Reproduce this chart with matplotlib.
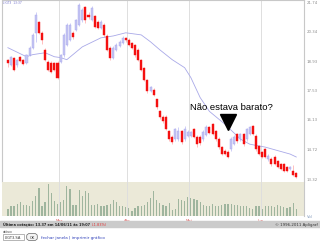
import matplotlib
matplotlib.use("Agg")
import matplotlib.pyplot as plt
from matplotlib.patches import Rectangle, FancyBboxPatch

# daily candles (open, close, high, low), Feb 14 - Jun 14 2011
opens = [18.95, 18.72, 19.05, 18.72, 19.09, 18.95, 18.81, 19.19, 19.52, 20.23,
         20.75, 20.23, 19.42, 18.86, 18.81, 18.81, 18.81, 18.86, 19.19, 19.66,
         19.90, 20.23, 20.37, 20.61, 20.84, 21.46, 21.08, 20.84, 21.03, 20.75,
         20.47, 20.61, 20.09, 19.52, 19.05, 19.42, 19.61, 19.75, 19.99, 19.90,
         19.75, 19.66, 19.42, 18.95, 18.57, 18.00, 17.44, 17.53, 17.06, 16.49,
         16.21, 16.21, 15.55, 15.26, 15.17, 15.17, 15.55, 15.17, 15.31, 15.31,
         15.64, 15.26, 15.26, 15.17, 15.36, 15.74, 15.88, 15.55, 15.17, 14.79,
         14.60, 14.55, 14.69, 14.93, 15.40, 15.17, 15.40, 15.17, 15.40, 15.78,
         15.31, 14.84, 14.55, 14.69, 14.22, 14.22, 14.32, 14.13, 13.99, 13.99,
         13.84, 13.75, 13.65, 13.55]
closes = [18.81, 19.09, 18.48, 18.95, 18.90, 18.76, 19.19, 19.52, 20.13, 21.08,
          20.23, 19.90, 18.95, 18.48, 18.38, 18.48, 18.10, 19.19, 20.13, 20.61,
          20.61, 20.04, 20.84, 21.55, 21.31, 20.84, 20.99, 21.41, 20.51, 20.47,
          20.75, 20.13, 19.42, 19.05, 19.52, 19.66, 19.80, 19.99, 19.90, 19.66,
          19.52, 19.19, 18.95, 18.48, 18.00, 17.44, 17.63, 17.25, 16.68, 16.21,
          16.02, 15.64, 15.17, 15.03, 15.64, 15.55, 15.03, 15.64, 15.50, 15.50,
          15.26, 14.93, 14.98, 15.50, 15.74, 15.45, 15.40, 15.17, 14.79, 14.46,
          14.46, 14.32, 15.17, 15.26, 15.07, 15.40, 14.93, 15.64, 15.74, 15.40,
          14.69, 14.46, 14.32, 14.32, 14.36, 13.99, 13.99, 13.84, 13.75, 13.65,
          13.65, 13.84, 13.46, 13.37]
highs = [19.00, 19.14, 19.10, 19.00, 19.14, 19.00, 19.24, 19.60, 20.20, 21.20,
         20.80, 20.30, 19.50, 18.95, 18.90, 18.86, 18.90, 19.24, 20.20, 20.70,
         20.70, 20.30, 20.90, 21.65, 21.40, 21.50, 21.20, 21.50, 21.10, 20.85,
         20.85, 20.70, 20.15, 19.60, 19.60, 19.75, 19.88, 20.08, 20.05, 19.99,
         19.80, 19.70, 19.50, 19.00, 18.62, 18.05, 17.70, 17.60, 17.10, 16.55,
         16.30, 16.30, 15.60, 15.35, 15.70, 15.75, 15.60, 15.80, 15.60, 15.55,
         15.70, 15.35, 15.35, 15.60, 15.85, 15.80, 15.95, 15.60, 15.25, 14.85,
         14.70, 14.65, 15.25, 15.35, 15.45, 15.45, 15.45, 15.70, 15.80, 15.85,
         15.40, 14.90, 14.60, 14.75, 14.45, 14.30, 14.40, 14.20, 14.05, 14.05,
         13.90, 13.90, 13.95, 13.60]
lows = [18.62, 18.67, 18.43, 18.60, 18.85, 18.70, 18.76, 19.14, 19.45, 19.80,
        20.18, 19.70, 18.90, 18.40, 18.30, 18.43, 18.05, 18.81, 19.10, 19.60,
        19.85, 19.95, 20.30, 20.55, 20.75, 20.70, 20.90, 20.80, 20.45, 20.40,
        20.40, 20.05, 19.35, 18.95, 19.00, 19.35, 19.55, 19.70, 19.80, 19.60,
        19.45, 19.10, 18.90, 18.40, 17.95, 17.35, 17.40, 17.20, 16.60, 16.15,
        15.95, 15.60, 15.10, 14.95, 15.10, 15.10, 14.95, 15.10, 15.25, 15.25,
        15.20, 14.80, 14.90, 15.10, 15.30, 15.40, 15.35, 15.10, 14.70, 14.40,
        14.40, 14.25, 14.60, 14.90, 15.00, 15.10, 14.85, 15.10, 15.35, 15.35,
        14.60, 14.40, 14.25, 14.25, 14.15, 13.90, 13.95, 13.80, 13.70, 13.60,
        13.60, 13.70, 13.40, 13.30]
volumes = [20, 28, 28, 36, 40, 33, 33, 30, 43, 58, 80, 28, 41, 93, 66, 43, 36, 40, 46, 86,
           78, 33, 31, 75, 58, 71, 66, 33, 33, 35, 30, 28, 33, 36, 46, 40, 28, 28, 26, 23,
           15, 23, 30, 28, 33, 41, 53, 71, 46, 38, 31, 30, 38, 18, 20, 50, 46, 43, 56, 53,
           48, 46, 40, 33, 28, 30, 36, 30, 30, 33, 36, 35, 36, 33, 33, 30, 28, 30, 23, 20,
           28, 28, 20, 30, 30, 28, 26, 33, 28, 26, 24, 26, 38, 21]

# moving average line, read at a few points (day index, price)
ma_idx = [0, 6, 8, 12, 15, 17, 19, 24, 30, 34, 38, 43, 46, 49, 53, 57, 59, 62, 65, 70, 75, 78, 83, 91, 93]
ma_vals = [19.52, 19.09, 19.19, 19.28, 19.09, 19.05, 18.95, 19.56, 19.99, 20.08, 20.23, 20.13,
           19.80, 19.42, 18.95, 18.57, 18.10, 17.15, 16.49, 15.88, 15.17, 14.93, 14.79, 14.46, 14.32]

price_ticks = [13.32, 14.72, 16.13, 17.53, 18.93, 20.34, 21.74]
month_labels = ["Mar", "Abr", "Mai", "Jun"]
month_start = [17, 39, 59, 82]

W, H = 320, 251
fig = plt.figure(figsize=(W / 100, H / 100), dpi=100)
fig.patch.set_facecolor("white")

ax = fig.add_axes([2 / W, 1 - 183 / H, 302 / W, 182 / H])
vax = fig.add_axes([2 / W, 1 - 217 / H, 302 / W, 34 / H])

n = len(opens)
for i in range(n):
    o, c = opens[i], closes[i]
    up = c >= o
    ax.vlines(i, lows[i], highs[i], color="#c8c8f6" if up else "#ffb4b4", lw=0.6, zorder=2)
    ax.bar(i, abs(c - o) if abs(c - o) > 0.02 else 0.03, bottom=min(o, c), width=0.65,
           color="#c4c4f4" if up else "#f41010",
           edgecolor="#a8a8ea" if up else "#f41010", lw=0.3, zorder=3)

ax.plot(ma_idx, ma_vals, color="#a9a9e8", lw=0.6, zorder=2)

for m in month_start:
    ax.axvline(m - 0.5, color="#dedede", lw=0.7, zorder=1)
    vax.axvline(m - 0.5, color="#dedede", lw=0.7, zorder=1)

ax.set_xlim(-1.9, 95.5)
ax.set_ylim(13.13, 21.79)
ax.set_xticks([])
ax.yaxis.tick_right()
ax.set_yticks(price_ticks)
ax.set_yticklabels([f"{t:.2f}" for t in price_ticks])
ax.tick_params(axis="y", length=0, labelsize=2.8, labelcolor="#8c8c8c", pad=2)
for s in ["left", "top", "right"]:
    ax.spines[s].set_color("#c8c8c8")
    ax.spines[s].set_linewidth(0.8)
ax.spines["bottom"].set_visible(False)

# annotation
ax.text(72.2, 16.70, "Não estava barato?", ha="center", va="center", fontsize=6.8,
        family="Liberation Sans", color="black", zorder=5)
ax.plot(71, 15.98, marker="v", markersize=12, color="black", zorder=5)

# volume panel
vax.set_facecolor("#ebe9d8")
vax.bar(range(n), volumes, width=0.4, color="#9fb59e", zorder=2)
vax.set_xlim(-1.9, 95.5)
vax.set_ylim(0, 98)
vax.set_xticks([m - 0.5 for m in month_start])
vax.set_xticklabels(month_labels)
vax.tick_params(axis="x", length=0, labelsize=2.8, labelcolor="#e06060", pad=1.5)
vax.yaxis.tick_right()
vax.set_yticks([0])
vax.set_yticklabels(["Vol"])
vax.tick_params(axis="y", length=0, labelsize=2.8, labelcolor="#8aa0c0", pad=2)
for s in ["left", "top", "bottom"]:
    vax.spines[s].set_visible(False)
vax.spines["right"].set_color("#c8c8c8")

# status bar and form
fig.patches.append(Rectangle((0, 1 - 228 / H), 1, 6 / H, transform=fig.transFigure,
                             color="#cbcbcb", zorder=0))
status = fig.text(3 / W, 1 - 225 / H, "Última cotação: 13.37 em 14/06/11 às 19:07",
                  fontsize=2.5, weight="bold", va="center", color="#222222")
renderer = fig.canvas.get_renderer()
status_end = status.get_window_extent(renderer).x1
fig.text((status_end + 2) / W, 1 - 225 / H, "(-1.83%)", fontsize=2.5, va="center",
         color="#e03030")
fig.text(318 / W, 1 - 225 / H, "© 1996-2011 Apligraf", fontsize=2.8, va="center",
         ha="right", color="#333333")
fig.text(3 / W, 1 - 232 / H, "ativo", fontsize=2.8, va="center", color="#444444")
fig.patches.append(Rectangle((3 / W, 1 - 241 / H), 21 / W, 6 / H, transform=fig.transFigure,
                             facecolor="white", edgecolor="#999999", lw=0.5))
fig.text(5 / W, 1 - 238 / H, "LIGT3.SA", fontsize=2.6, va="center", color="#333333")
fig.patches.append(FancyBboxPatch((28 / W, 1 - 240.5 / H), 8 / W, 5 / H,
                                  boxstyle="round,pad=0.004,rounding_size=0.01",
                                  transform=fig.transFigure, facecolor="#f4f4f4",
                                  edgecolor="#666666", lw=0.5))
fig.text(32 / W, 1 - 238 / H, "OK", fontsize=2.6, va="center", ha="center", color="#333333")
fig.text(41 / W, 1 - 238 / H, "fechar janela | imprimir gráfico", fontsize=3, va="center",
         color="#3344bb")
fig.text(3 / W, 1 - 3 / H, "LIGT3  13:37", fontsize=2.2, va="center", color="#7777cc")

fig.savefig("out.png", dpi=100)
